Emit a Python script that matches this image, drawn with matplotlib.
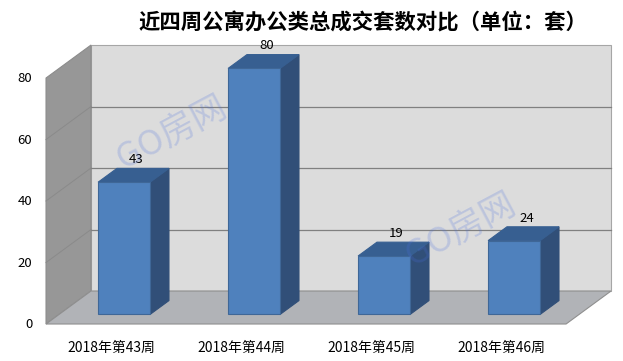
import matplotlib
matplotlib.use("Agg")
import matplotlib.pyplot as plt

plt.rcParams['font.family'] = ['Noto Sans CJK SC', 'DejaVu Sans']

title = "近四周公寓办公类总成交套数对比（单位：套）"
weeks = ["2018年第43周", "2018年第44周", "2018年第45周", "2018年第46周"]
deals = [43, 80, 19, 24]
y_ticks = [0, 20, 40, 60, 80]

# oblique projection: depth 0 is the front edge of the floor, 1 the back wall
DEPTH_X = 0.346
DEPTH_Y = 10.73
y_max = 80
n = len(weeks)


def proj(x, y, z):
    return x + z * DEPTH_X, y + z * DEPTH_Y


def face(ax, pts, color, edge=None, lw=0.8, zorder=1):
    xs, ys = zip(*[proj(*p) for p in pts])
    ax.fill(xs, ys, facecolor=color, edgecolor=edge if edge else color, linewidth=lw, zorder=zorder)


fig = plt.figure(figsize=(6.23, 3.61), dpi=100, facecolor="white")
ax = fig.add_axes([0, 0, 1, 1])
ax.set_xlim(-0.354, 4.438)
ax.set_ylim(-12.03, 105.37)
ax.axis("off")

# walls and floor
face(ax, [(0, 0, 1), (n, 0, 1), (n, y_max, 1), (0, y_max, 1)], "#dcdcdc", "#a6a6a6")
face(ax, [(0, 0, 0), (0, 0, 1), (0, y_max, 1), (0, y_max, 0)], "#979797", "#8c8c8c")
face(ax, [(0, 0, 0), (n, 0, 0), (n, 0, 1), (0, 0, 1)], "#b1b3b7", "#8f8f8f")

for t in y_ticks[1:-1]:
    x0, y0 = proj(0, t, 0)
    x1, y1 = proj(0, t, 1)
    x2, y2 = proj(n, t, 1)
    ax.plot([x0, x1], [y0, y1], color="#8a8a8a", lw=0.7, zorder=2)
    ax.plot([x1, x2], [y1, y2], color="#808080", lw=0.9, zorder=2)

# bars
z0, z1 = 0.29, 0.71
half = 0.2
for i, v in enumerate(deals):
    l, r = i + 0.5 - half, i + 0.5 + half
    face(ax, [(r, 0, z0), (r, 0, z1), (r, v, z1), (r, v, z0)], "#314f78", zorder=3)
    face(ax, [(l, v, z0), (r, v, z0), (r, v, z1), (l, v, z1)], "#375f91", zorder=3)
    face(ax, [(l, 0, z0), (r, 0, z0), (r, v, z0), (l, v, z0)], "#4f81bd", "#3f6797", zorder=4)
    lx, ly = proj(i + 0.5, v, z1)
    ax.text(lx - 0.05, ly + 0.7, str(v), ha="center", va="bottom", fontsize=9.5, color="black", zorder=6)
    ax.text(i + 0.505, -7.9, weeks[i], ha="center", va="center", fontsize=10, color="black", zorder=6)

for t in y_ticks:
    ax.text(-0.105, t - 0.3, str(t), ha="right", va="center", fontsize=9.5, color="black")

fig.text(0.583, 0.938, title, ha="center", va="center", fontsize=15.4, fontweight="bold", color="black")

# watermark
for px, py in [(172, 133), (461, 230)]:
    fig.text(px / 623, 1 - py / 361, "GO房网", ha="center", va="center", fontsize=25, rotation=28,
             color="#4a6fe0", alpha=0.22, zorder=10)

fig.savefig("out.png", dpi=100)
